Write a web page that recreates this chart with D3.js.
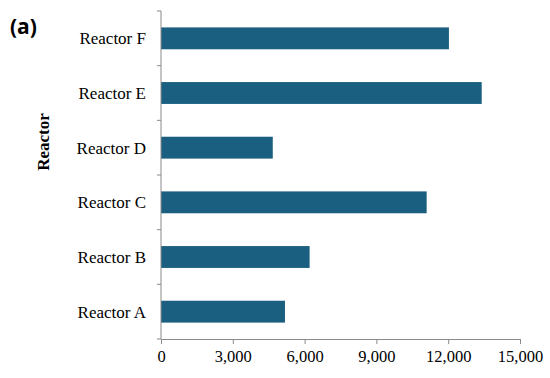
<!DOCTYPE html>
<html><head><meta charset="utf-8">
<script src="https://cdn.jsdelivr.net/npm/d3@7"></script>
<style>body{margin:0;background:#fff}svg{display:block}</style>
</head><body>
<svg id="c" width="550" height="378"></svg>
<script>
const categories = ["Reactor A","Reactor B","Reactor C","Reactor D","Reactor E","Reactor F"];
const values = [5180, 6210, 11100, 4670, 13400, 12030];
const xTicks = [0, 3000, 6000, 9000, 12000, 15000];

(function(){
const svg = d3.select("#c");
const mLeft = 161, mRight = 520, mTop = 11, mBottom = 339;
const x = d3.scaleLinear().domain([0, 15000]).range([mLeft, mRight]);
const y = d3.scaleBand().domain(categories.slice().reverse()).range([mTop, mBottom]).paddingInner(0.6).paddingOuter(0.3);

svg.append("g").selectAll("rect").data(categories).join("rect")
  .attr("x", x(0))
  .attr("y", d => y(d))
  .attr("width", (d,i) => x(values[i]) - x(0))
  .attr("height", y.bandwidth())
  .attr("fill", "#1b5f80");

const axisColor = "#8a8a8a";
const xa = svg.append("g").attr("transform", `translate(0,${mBottom})`)
  .call(d3.axisBottom(x).tickValues(xTicks).tickFormat(d3.format(",")).tickSize(5).tickSizeOuter(0));
xa.select(".domain").attr("stroke", axisColor);
xa.selectAll(".tick line").attr("stroke", axisColor);
xa.selectAll("text").attr("font-family", "'Liberation Serif','Times New Roman',serif").attr("font-size", 16.5).attr("fill", "#000").attr("dy", "0.95em").attr("y", 7);

const yg = svg.append("g");
yg.append("line").attr("x1", mLeft).attr("x2", mLeft).attr("y1", mTop).attr("y2", mBottom).attr("stroke", axisColor);
const step = (mBottom - mTop) / categories.length;
const bounds = d3.range(categories.length + 1).map(i => mTop + i * step);
yg.selectAll(".tk").data(bounds).join("line")
  .attr("x1", mLeft - 4).attr("x2", mLeft).attr("y1", d => d).attr("y2", d => d).attr("stroke", axisColor);
yg.selectAll("text").data(categories).join("text")
  .attr("x", 146).attr("y", d => y(d) + y.bandwidth()/2)
  .attr("dy", "0.35em").attr("text-anchor", "end")
  .attr("font-family", "'Liberation Serif','Times New Roman',serif").attr("font-size", 17).attr("fill", "#000")
  .text(d => d);

svg.append("text").attr("transform", "translate(49,142) rotate(-90)")
  .attr("text-anchor", "middle")
  .attr("font-family", "'Liberation Serif','Times New Roman',serif").attr("font-weight", "bold").attr("font-size", 17)
  .text("Reactor");

svg.append("text").attr("x", 10).attr("y", 34)
  .attr("font-family", "'Open Sans','Noto Sans',sans-serif").attr("font-weight", "bold").attr("font-size", 21)
  .text("(a)");
})();
</script>
</body></html>
